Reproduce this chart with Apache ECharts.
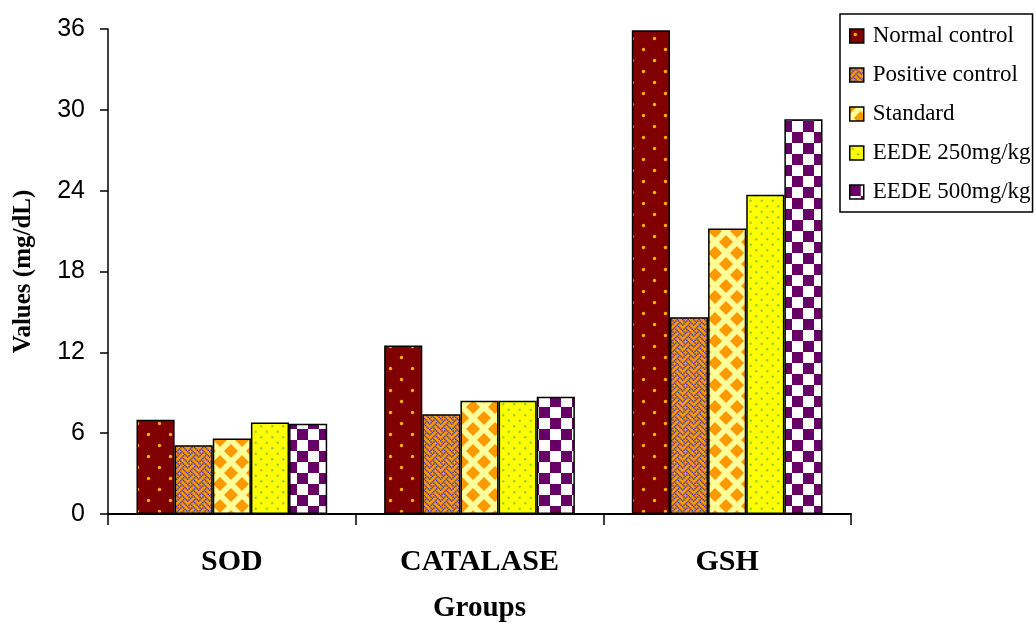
<!DOCTYPE html>
<html><head><meta charset="utf-8">
<script src="https://cdn.jsdelivr.net/npm/echarts@6/dist/echarts.min.js"></script>
<style>html,body{margin:0;padding:0;background:#fff}#c{width:1036px;height:623px}</style>
</head><body><div id="c"></div>
<script>
var categories = ['SOD', 'CATALASE', 'GSH'];
var seriesNames = ['Normal control', 'Positive control', 'Standard', 'EEDE 250mg/kg', 'EEDE 500mg/kg'];
var normalControl = [7.0, 12.5, 35.9];
var positiveControl = [5.1, 7.4, 14.6];
var standard = [5.6, 8.4, 21.2];
var eede250 = [6.8, 8.4, 23.7];
var eede500 = [6.7, 8.7, 29.3];
var yTicks = [0, 6, 12, 18, 24, 30, 36];

function mk(w, h, draw) {
  var c = document.createElement('canvas');
  c.width = w; c.height = h;
  draw(c.getContext('2d'), w, h);
  return c;
}
function dot(g, x, y, r, col) { g.fillStyle = col; g.beginPath(); g.arc(x, y, r, 0, Math.PI * 2); g.fill(); }

var patNormal = mk(22, 22, function (g, w, h) {
  g.fillStyle = '#800000'; g.fillRect(0, 0, w, h);
  dot(g, 5.5, 5.5, 1.7, '#f2b800'); dot(g, 16.5, 16.5, 1.7, '#f2b800');
});
var weave = [0x88, 0x54, 0x22, 0x45, 0x88, 0x14, 0x22, 0x51];
var patPositive = mk(11, 11, function (g, w, h) {
  g.fillStyle = '#ff9900'; g.fillRect(0, 0, w, h);
  g.fillStyle = '#3333cc';
  var s = 11 / 8;
  for (var r = 0; r < 8; r++) for (var b = 0; b < 8; b++) if (weave[r] & (0x80 >> b)) g.fillRect(b * s, r * s, s, s);
});
var patStandard = mk(22, 22, function (g, w, h) {
  g.fillStyle = '#ffff99'; g.fillRect(0, 0, w, h);
  g.fillStyle = '#ff9900';
  function dia(cx, cy, r) { g.beginPath(); g.moveTo(cx, cy - r); g.lineTo(cx + r, cy); g.lineTo(cx, cy + r); g.lineTo(cx - r, cy); g.closePath(); g.fill(); }
  dia(0, 0, 7); dia(22, 0, 7); dia(0, 22, 7); dia(22, 22, 7); dia(11, 11, 7);
});
var patE250 = mk(11, 11, function (g, w, h) {
  g.fillStyle = '#ffff00'; g.fillRect(0, 0, w, h);
  dot(g, 2.75, 2.75, 1.2, '#9acd32'); dot(g, 8.25, 8.25, 1.2, '#9acd32');
});
var patE500 = mk(22, 22, function (g, w, h) {
  g.fillStyle = '#ffffff'; g.fillRect(0, 0, w, h);
  g.fillStyle = '#660066'; g.fillRect(0, 0, 11, 11); g.fillRect(11, 11, 11, 11);
});

var pats = [patNormal, patPositive, patStandard, patE250, patE500];
var datas = [normalControl, positiveControl, standard, eede250, eede500];

var series = seriesNames.map(function (n, i) {
  return {
    name: n, type: 'bar', data: datas[i], barGap: '0%', barCategoryGap: '23%',
    itemStyle: { color: { image: pats[i], repeat: 'repeat' }, borderColor: '#000', borderWidth: 1.5 },
    emphasis: { disabled: true }
  };
});

var chart = echarts.init(document.getElementById('c'), null, { renderer: 'canvas' });
chart.setOption({
  animation: false,
  backgroundColor: '#fff',
  grid: { left: 108, right: 185, top: 29, bottom: 109, containLabel: false, outerBoundsMode: 'none' },
  legend: {
    orient: 'vertical', left: 840, top: 14,
    data: seriesNames,
    icon: 'rect', itemWidth: 14, itemHeight: 14, itemGap: 15,
    borderColor: '#000', borderWidth: 1.5,
    padding: [10, 2, 8, 9],
    textStyle: { fontFamily: 'Liberation Serif', fontSize: 23, color: '#000', lineHeight: 24, padding: [0, 0, 0, 4] },
    itemStyle: { borderColor: '#000', borderWidth: 1.5 }
  },
  xAxis: {
    type: 'category', data: categories,
    name: 'Groups', nameLocation: 'middle', nameGap: 80,
    nameTextStyle: { fontFamily: 'Liberation Serif', fontWeight: 'bold', fontSize: 29, color: '#000' },
    axisLine: { lineStyle: { color: '#000', width: 2 } },
    axisTick: { show: true, length: 11, lineStyle: { color: '#000', width: 1.5 } },
    axisLabel: { margin: 33, fontFamily: 'Liberation Serif', fontWeight: 'bold', fontSize: 30, color: '#000' }
  },
  yAxis: {
    type: 'value', min: 0, max: 36, interval: 6,
    name: 'Values (mg/dL)', nameLocation: 'middle', nameGap: 72, nameRotate: 90,
    nameTextStyle: { fontFamily: 'Liberation Serif', fontWeight: 'bold', fontSize: 25, color: '#000' },
    axisLine: { show: true, lineStyle: { color: '#000', width: 1.5 } },
    axisTick: { show: true, length: 8, lineStyle: { color: '#000', width: 1.5 } },
    splitLine: { show: false },
    axisLabel: { margin: 23, fontFamily: 'Liberation Sans', fontSize: 25, color: '#000',
      formatter: function (v) { return yTicks.indexOf(v) >= 0 ? String(v) : ''; } }
  },
  series: series
});
</script></body></html>
